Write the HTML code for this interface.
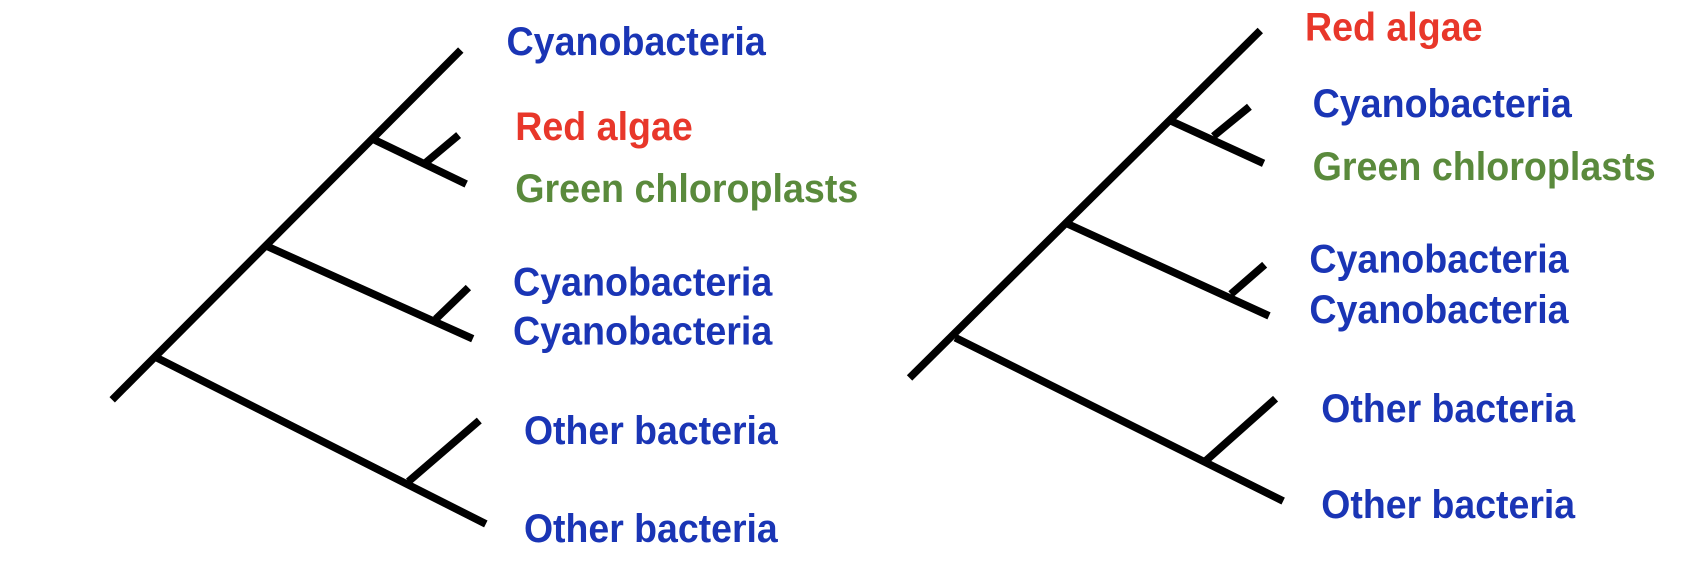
<!DOCTYPE html>
<html><head><style>html,body{margin:0;padding:0;background:#fff;}svg{display:block}</style></head>
<body>
<svg width="1708" height="582" viewBox="0 0 1568 534.3" preserveAspectRatio="none" xmlns="http://www.w3.org/2000/svg">
<g stroke="#000" stroke-width="7" fill="none">
<line x1="103" y1="367" x2="423" y2="46"/>
<line x1="143" y1="328" x2="446" y2="481"/>
<line x1="375" y1="442" x2="440" y2="386"/>
<line x1="245" y1="226" x2="434" y2="311"/>
<line x1="400" y1="293" x2="430" y2="264"/>
<line x1="343" y1="128" x2="428" y2="169"/>
<line x1="390" y1="150" x2="421" y2="124"/>
<line x1="835" y1="347" x2="1157" y2="28"/>
<line x1="877" y1="310" x2="1178" y2="460"/>
<line x1="1107" y1="423" x2="1171" y2="366"/>
<line x1="979" y1="205" x2="1165" y2="290"/>
<line x1="1130" y1="270" x2="1161" y2="243"/>
<line x1="1075" y1="111" x2="1160" y2="150"/>
<line x1="1114" y1="125" x2="1147" y2="98"/>
</g>
<g font-family="Liberation Sans, Arial, sans-serif" font-weight="bold" font-size="37" dominant-baseline="central">
<text x="465" y="38" fill="#1a35b5" textLength="238" lengthAdjust="spacingAndGlyphs">Cyanobacteria</text>
<text x="473" y="116" fill="#e8372a" textLength="163" lengthAdjust="spacingAndGlyphs">Red algae</text>
<text x="473" y="173" fill="#5a8a3c" textLength="315" lengthAdjust="spacingAndGlyphs">Green chloroplasts</text>
<text x="471" y="259" fill="#1a35b5" textLength="238" lengthAdjust="spacingAndGlyphs">Cyanobacteria</text>
<text x="471" y="304" fill="#1a35b5" textLength="238" lengthAdjust="spacingAndGlyphs">Cyanobacteria</text>
<text x="481" y="395" fill="#1a35b5" textLength="233" lengthAdjust="spacingAndGlyphs">Other bacteria</text>
<text x="481" y="485" fill="#1a35b5" textLength="233" lengthAdjust="spacingAndGlyphs">Other bacteria</text>
<text x="1198" y="25" fill="#e8372a" textLength="163" lengthAdjust="spacingAndGlyphs">Red algae</text>
<text x="1205" y="95" fill="#1a35b5" textLength="238" lengthAdjust="spacingAndGlyphs">Cyanobacteria</text>
<text x="1205" y="153" fill="#5a8a3c" textLength="315" lengthAdjust="spacingAndGlyphs">Green chloroplasts</text>
<text x="1202" y="238" fill="#1a35b5" textLength="238" lengthAdjust="spacingAndGlyphs">Cyanobacteria</text>
<text x="1202" y="284" fill="#1a35b5" textLength="238" lengthAdjust="spacingAndGlyphs">Cyanobacteria</text>
<text x="1213" y="375" fill="#1a35b5" textLength="233" lengthAdjust="spacingAndGlyphs">Other bacteria</text>
<text x="1213" y="463" fill="#1a35b5" textLength="233" lengthAdjust="spacingAndGlyphs">Other bacteria</text>
</g>
</svg>
</body></html>
